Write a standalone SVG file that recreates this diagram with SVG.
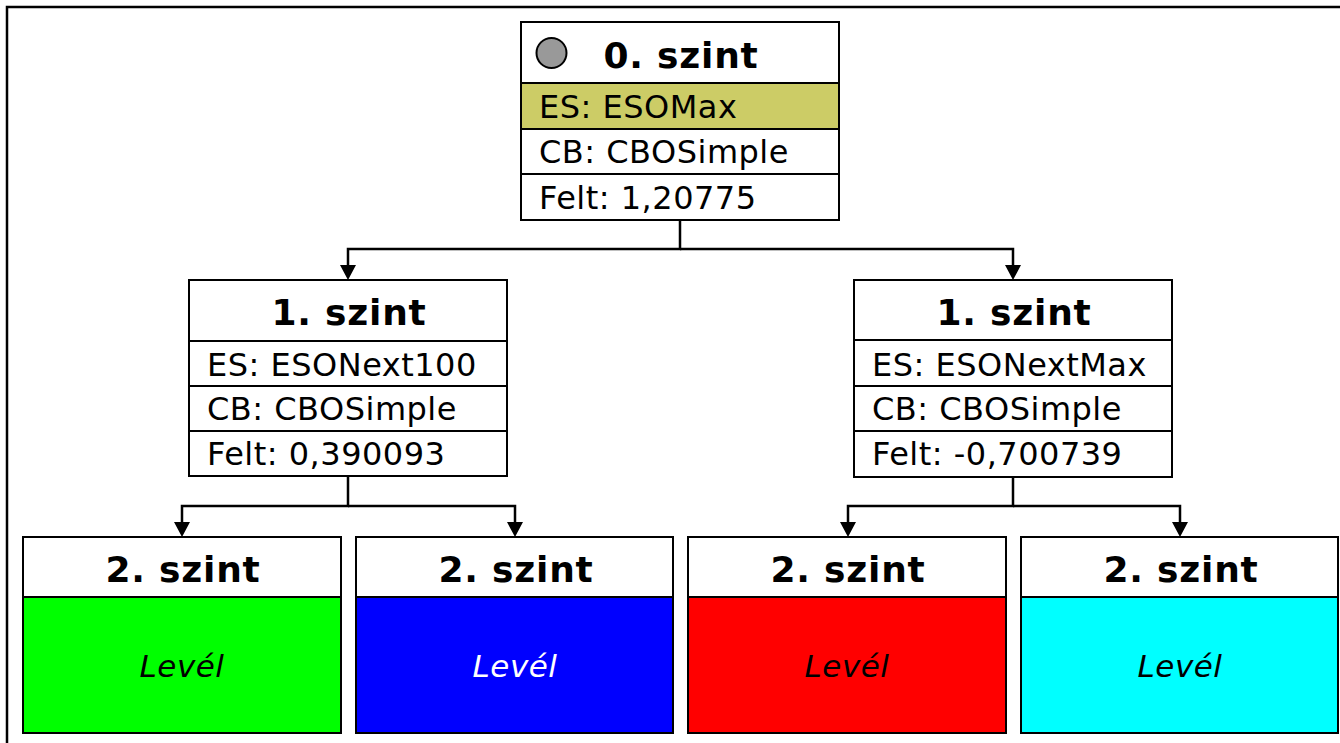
<svg xmlns="http://www.w3.org/2000/svg" width="1340" height="743" viewBox="0 0 1340 743">
<defs>
<style>
.box{fill:#fff;stroke:#000;stroke-width:2}
.sep{stroke:#000;stroke-width:2}
.title{font-family:"DejaVu Sans",Verdana,sans-serif;font-weight:bold;font-size:36px;letter-spacing:0.8px;text-anchor:middle;fill:#000}
.row{font-family:"DejaVu Sans",Verdana,sans-serif;font-size:32px;letter-spacing:0.5px;fill:#000}
.leaf{font-family:"DejaVu Sans",Verdana,sans-serif;font-style:italic;font-size:31px;letter-spacing:0.5px;text-anchor:middle}
.conn{fill:none;stroke:#000;stroke-width:2.5}
</style>
</defs>
<rect width="1340" height="743" fill="#fff"/>
<g id="frame">
<path d="M7,743 L7,7 L1340,7" fill="none" stroke="#000" stroke-width="2.5"/>
</g>
<g id="connectors">
<path class="conn" d="M680,220 L680,249 L348,249 L348,265"/>
<path class="conn" d="M680,249 L1013,249 L1013,265"/>
<path class="conn" d="M348,476 L348,506 L182,506 L182,522"/>
<path class="conn" d="M348,506 L515,506 L515,522"/>
<path class="conn" d="M1013,477 L1013,506 L848,506 L848,522"/>
<path class="conn" d="M1013,506 L1180,506 L1180,522"/>
<path d="M340,265 L356,265 L348,280 Z M1005,265 L1021,265 L1013,280 Z M174,522 L190,522 L182,537 Z M507,522 L523,522 L515,537 Z M840,522 L856,522 L848,537 Z M1172,522 L1188,522 L1180,537 Z" fill="#000"/>
</g>
<g id="node0">
<rect class="box" x="521" y="22" width="318" height="198"/>
<rect x="521" y="83" width="318" height="46" fill="#cccc66" stroke="#000" stroke-width="2"/>
<line class="sep" x1="521" y1="174" x2="839" y2="174"/>
<circle cx="551.5" cy="53" r="15" fill="#999" stroke="#000" stroke-width="2"/>
<text class="title" x="681" y="68">0. szint</text>
<text class="row" x="539" y="118">ES: ESOMax</text>
<text class="row" x="539" y="163">CB: CBOSimple</text>
<text class="row" x="539" y="209">Felt: 1,20775</text>
</g>
<g id="node1a">
<rect class="box" x="189" y="280" width="318" height="196"/>
<line class="sep" x1="189" y1="341" x2="507" y2="341"/>
<line class="sep" x1="189" y1="386" x2="507" y2="386"/>
<line class="sep" x1="189" y1="431" x2="507" y2="431"/>
<text class="title" x="349" y="325">1. szint</text>
<text class="row" x="207" y="376">ES: ESONext100</text>
<text class="row" x="207" y="420">CB: CBOSimple</text>
<text class="row" x="207" y="465">Felt: 0,390093</text>
</g>
<g id="node1b">
<rect class="box" x="854" y="280" width="318" height="197"/>
<line class="sep" x1="854" y1="340" x2="1172" y2="340"/>
<line class="sep" x1="854" y1="386" x2="1172" y2="386"/>
<line class="sep" x1="854" y1="431" x2="1172" y2="431"/>
<text class="title" x="1014" y="325">1. szint</text>
<text class="row" x="872" y="376">ES: ESONextMax</text>
<text class="row" x="872" y="420">CB: CBOSimple</text>
<text class="row" x="872" y="465">Felt: -0,700739</text>
</g>
<g id="leaf1">
<rect class="box" x="23" y="537" width="318" height="196"/>
<rect x="23" y="597" width="318" height="136" fill="#00ff00" stroke="#000" stroke-width="2"/>
<text class="title" x="183" y="582">2. szint</text>
<text class="leaf" x="182" y="677" fill="#000">Levél</text>
</g>
<g id="leaf2">
<rect class="box" x="356" y="537" width="317" height="196"/>
<rect x="356" y="597" width="317" height="136" fill="#0000ff" stroke="#000" stroke-width="2"/>
<text class="title" x="516" y="582">2. szint</text>
<text class="leaf" x="515" y="677" fill="#fff">Levél</text>
</g>
<g id="leaf3">
<rect class="box" x="688" y="537" width="318" height="196"/>
<rect x="688" y="597" width="318" height="136" fill="#ff0000" stroke="#000" stroke-width="2"/>
<text class="title" x="848" y="582">2. szint</text>
<text class="leaf" x="847" y="677" fill="#000">Levél</text>
</g>
<g id="leaf4">
<rect class="box" x="1021" y="537" width="317" height="196"/>
<rect x="1021" y="597" width="317" height="136" fill="#00ffff" stroke="#000" stroke-width="2"/>
<text class="title" x="1181" y="582">2. szint</text>
<text class="leaf" x="1180" y="677" fill="#000">Levél</text>
</g>
</svg>
